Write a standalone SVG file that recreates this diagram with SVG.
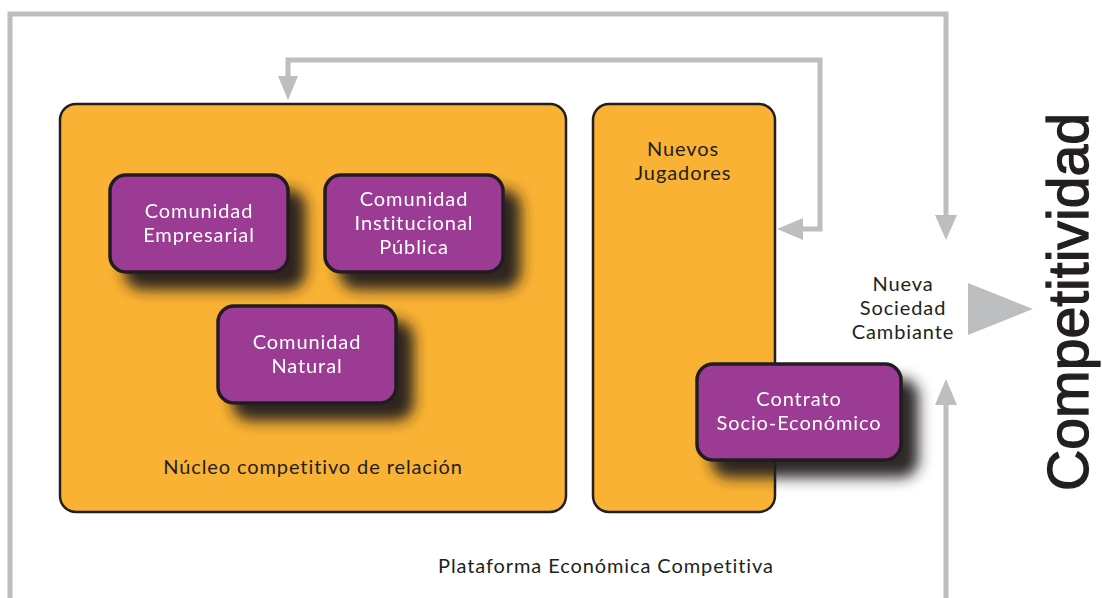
<svg xmlns="http://www.w3.org/2000/svg" width="1102" height="598" viewBox="0 0 1102 598">
<defs>
<style>
.lbl{font-family:Lato,"Open Sans","Liberation Sans",sans-serif;font-size:20px;letter-spacing:0.9px;text-anchor:middle}
.w{fill:#ffffff}
.k{fill:#231f20}
.org{fill:#f9b233;stroke:#231f20;stroke-width:2.5}
.pur{fill:#9b3a93;stroke:#231f20;stroke-width:3.5}
.gl{fill:none;stroke:#bcbec0;stroke-width:5}
.gh{fill:#bcbec0}
</style>
<filter id="sh" x="-20%" y="-20%" width="160%" height="180%">
<feGaussianBlur in="SourceAlpha" stdDeviation="7"/>
<feOffset dx="16" dy="16" result="b"/>
<feFlood flood-color="#231f20" flood-opacity="0.95"/>
<feComposite in2="b" operator="in" result="s"/>
<feMerge><feMergeNode in="s"/><feMergeNode in="SourceGraphic"/></feMerge>
</filter>
</defs>
<rect width="1102" height="598" fill="#ffffff"/>
<g id="connectors">
<path class="gl" d="M10 598 V14 H946 V217"/>
<polygon class="gh" points="935,215 957,215 946,240"/>
<path class="gl" d="M288 77 V60 H820 V229 H802"/>
<polygon class="gh" points="278,76 298,76 288,100"/>
<polygon class="gh" points="803,218 803,240 777,229"/>
<path class="gl" d="M946 598 V403"/>
<polygon class="gh" points="935,405 957,405 946,379"/>
<polygon class="gh" points="968,283 968,335 1033,309"/>
</g>
<g id="nucleo">
<rect class="org" x="60" y="104" width="506" height="408" rx="16"/>
<text class="lbl k" x="313" y="474">Núcleo competitivo de relación</text>
</g>
<g id="nuevos">
<rect class="org" x="593" y="104" width="182" height="408" rx="16"/>
<text class="lbl k" x="683" y="156">Nuevos</text>
<text class="lbl k" x="683" y="180">Jugadores</text>
</g>
<g id="empresarial" filter="url(#sh)">
<rect class="pur" x="110" y="175" width="178" height="97" rx="16"/>
<text class="lbl w" x="199" y="218">Comunidad</text>
<text class="lbl w" x="199" y="242">Empresarial</text>
</g>
<g id="institucional" filter="url(#sh)">
<rect class="pur" x="325" y="175" width="178" height="97" rx="16"/>
<text class="lbl w" x="414" y="206">Comunidad</text>
<text class="lbl w" x="414" y="230">Institucional</text>
<text class="lbl w" x="414" y="254">Pública</text>
</g>
<g id="natural" filter="url(#sh)">
<rect class="pur" x="218" y="306" width="178" height="97" rx="16"/>
<text class="lbl w" x="307" y="349">Comunidad</text>
<text class="lbl w" x="307" y="373">Natural</text>
</g>
<g id="contrato" filter="url(#sh)">
<rect class="pur" x="697" y="364" width="204" height="96" rx="16"/>
<text class="lbl w" x="799" y="406">Contrato</text>
<text class="lbl w" x="799" y="430">Socio-Económico</text>
</g>
<g id="sociedad">
<text class="lbl k" x="903" y="291">Nueva</text>
<text class="lbl k" x="903" y="315">Sociedad</text>
<text class="lbl k" x="903" y="339">Cambiante</text>
</g>
<g id="plataforma">
<text class="lbl k" x="606" y="573">Plataforma Económica Competitiva</text>
</g>
<g id="competitividad">
<text transform="translate(1088,302) rotate(-90)" font-family="'Liberation Sans',Arial,sans-serif" font-size="58" text-anchor="middle" fill="#231f20" stroke="#231f20" stroke-width="1.3" textLength="378" lengthAdjust="spacingAndGlyphs">Competitividad</text>
</g>
</svg>
